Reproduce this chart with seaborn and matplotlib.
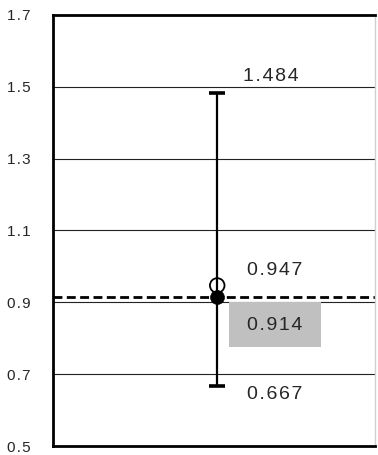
import matplotlib
matplotlib.use("Agg")
import matplotlib.pyplot as plt
from matplotlib.patches import Rectangle
import seaborn as sns
import pandas as pd

# Confidence interval and point estimates
ci_lower = 0.667
ci_upper = 1.484
crude_estimate = 0.947
pooled_estimate = 0.914
y_ticks = [0.5, 0.7, 0.9, 1.1, 1.3, 1.5, 1.7]

HAIR = "\u200a"


def spaced(value, fmt):
    return HAIR.join(fmt.format(value))


sns.set_style("white")
plt.rcParams["font.family"] = ["Liberation Sans", "DejaVu Sans"]

W, H = 378, 455
fig = plt.figure(figsize=(W / 100, H / 100), dpi=100)
ax = fig.add_axes([53 / W, 1 - 446 / H, (375 - 53) / W, (446 - 15) / H])

points = pd.DataFrame({"x": [0.0], "crude": [crude_estimate], "pooled": [pooled_estimate]})

# horizontal gridlines
for t in y_ticks[1:-1]:
    ax.axhline(t, color="#222222", lw=0.8, zorder=1)

# reference line at the pooled estimate
ax.axhline(pooled_estimate, color="black", lw=2.0, ls=(0, (3.2, 1.6)), zorder=2)

# interval with caps
ax.errorbar([0.0], [pooled_estimate],
            yerr=[[pooled_estimate - ci_lower], [ci_upper - pooled_estimate]],
            fmt="none", ecolor="black", elinewidth=1.6, capsize=5.8, capthick=2.6, zorder=3)

sns.scatterplot(data=points, x="x", y="crude", ax=ax, marker="o", s=110,
                facecolor="none", edgecolor="black", linewidth=1.3, zorder=4, legend=False)
sns.scatterplot(data=points, x="x", y="pooled", ax=ax, marker="o", s=100,
                color="black", edgecolor="black", linewidth=0.5, zorder=5, legend=False)

ax.set_xlim(-1.02, 0.98)
ax.set_ylim(0.5, 1.7)
ax.set_xticks([])
ax.set_yticks(y_ticks)
ax.set_yticklabels([spaced(t, "{:.1f}") for t in y_ticks], fontsize=11)
ax.tick_params(axis="y", length=0, pad=16)
ax.set_xlabel("")
ax.set_ylabel("")

for side in ("left", "top", "bottom"):
    ax.spines[side].set_color("black")
    ax.spines[side].set_linewidth(2.0)
ax.spines["right"].set_color("#d0d0d0")
ax.spines["right"].set_linewidth(1.0)

# value labels
lab_x = 0.36
fs = 14
ax.text(lab_x - 0.03, ci_upper + 0.046, spaced(ci_upper, "{:.3f}"), ha="center", va="center", fontsize=fs)
ax.text(lab_x, crude_estimate + 0.043, spaced(crude_estimate, "{:.3f}"), ha="center", va="center", fontsize=fs)
ax.add_patch(Rectangle(((229 - 53) / 322, 1 - (347 - 15) / 431), 92 / 322, 45 / 431,
                       transform=ax.transAxes, facecolor="#c0c0c0", edgecolor="none", zorder=2.5))
ax.text(lab_x, pooled_estimate - 0.078, spaced(pooled_estimate, "{:.3f}"), ha="center", va="center",
        fontsize=fs, zorder=6)
ax.text(lab_x, ci_lower - 0.025, spaced(ci_lower, "{:.3f}"), ha="center", va="center", fontsize=fs)

fig.savefig("out.png", dpi=100, facecolor="white")
